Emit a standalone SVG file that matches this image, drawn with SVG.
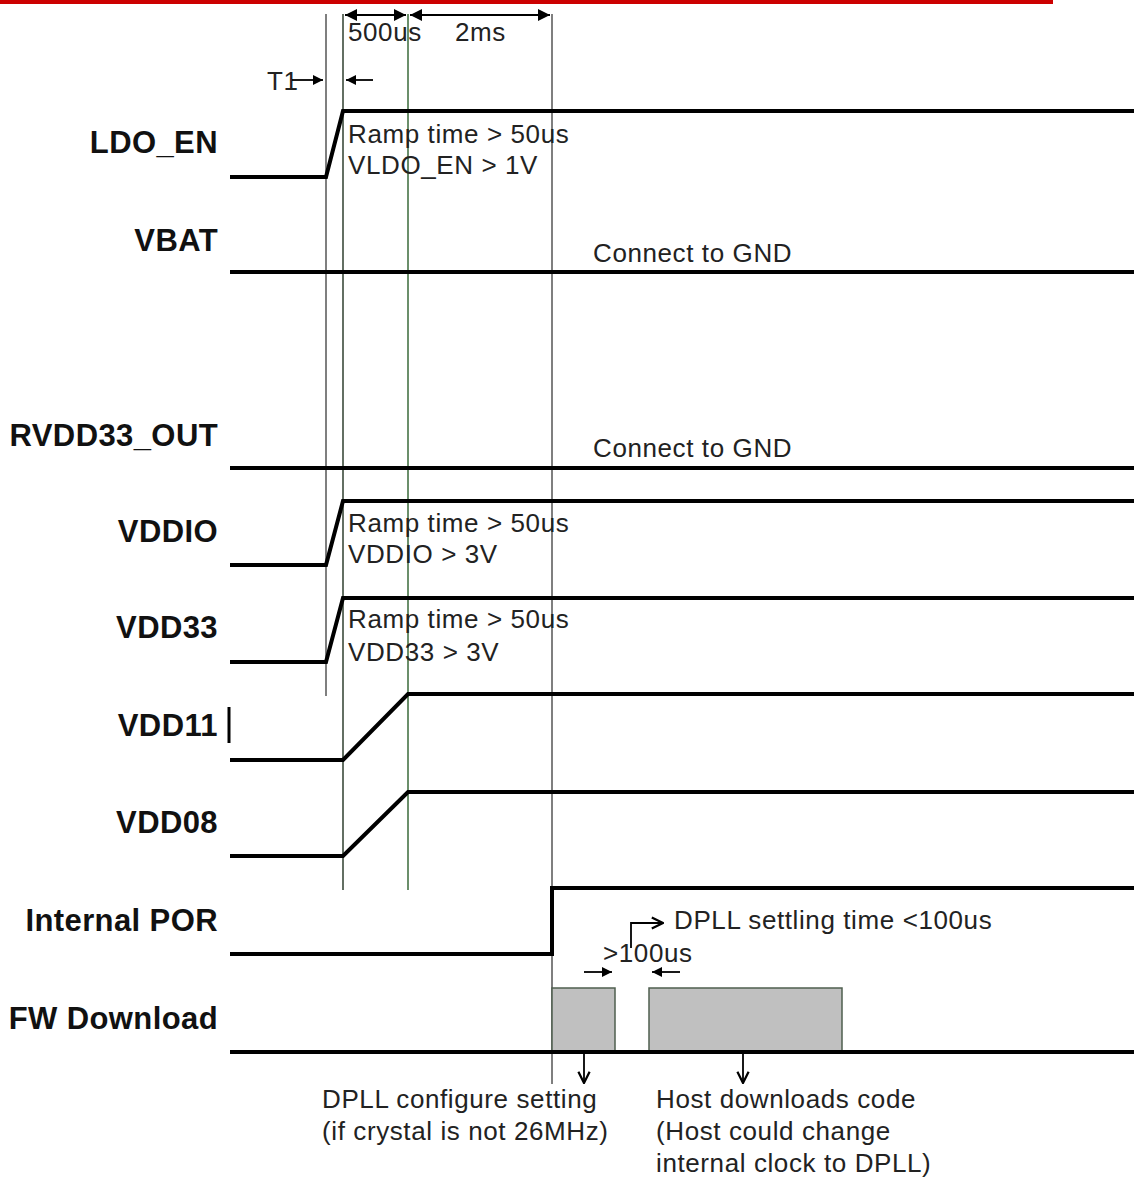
<svg xmlns="http://www.w3.org/2000/svg" width="1134" height="1180" viewBox="0 0 1134 1180">
<style>
.lbl{font-family:"Liberation Sans",Arial,sans-serif;font-weight:bold;font-size:31px;letter-spacing:0.4px;fill:#111;text-anchor:end}
.t{font-family:"Liberation Sans",Arial,sans-serif;font-size:26px;letter-spacing:0.6px;fill:#222}
.sig{fill:none;stroke:#000;stroke-width:4}
.vl{fill:none;stroke-width:1.5}
.arr{fill:none;stroke:#000;stroke-width:1.8}
.box{fill:#c0c0c0;stroke:#4f5f4f;stroke-width:1.5}
</style>
<defs>
<marker id="ah" viewBox="0 0 10 10" refX="10" refY="5" markerWidth="11" markerHeight="10" orient="auto-start-reverse" markerUnits="userSpaceOnUse">
<path d="M0,0 L10,5 L0,10 z" fill="#000"/>
</marker>
<marker id="ah2" viewBox="0 0 10 10" refX="10" refY="5" markerWidth="14" markerHeight="12" orient="auto-start-reverse" markerUnits="userSpaceOnUse">
<path d="M0,0 L10,5 L0,10 z" fill="#000"/>
</marker>
<marker id="open" viewBox="0 0 10 10" refX="9" refY="5" markerWidth="14" markerHeight="14" orient="auto" markerUnits="userSpaceOnUse">
<path d="M1,1 L9,5 L1,9" fill="none" stroke="#000" stroke-width="1.6"/>
</marker>
</defs>
<line x1="0" y1="2" x2="1053" y2="2" stroke="#cc0000" stroke-width="4"/>

<g id="gridlines">
<line class="vl" x1="326" y1="14" x2="326" y2="696" stroke="#555"/>
<line class="vl" x1="343" y1="14" x2="343" y2="890" stroke="#2f3f2f"/>
<line class="vl" x1="408" y1="14" x2="408" y2="890" stroke="#3a6a3a"/>
<line class="vl" x1="552" y1="14" x2="552" y2="1084" stroke="#555"/>
</g>

<g id="timing">
<line class="arr" x1="345" y1="15" x2="406" y2="15" marker-start="url(#ah2)" marker-end="url(#ah2)"/>
<line class="arr" x1="410" y1="15" x2="550" y2="15" marker-start="url(#ah2)" marker-end="url(#ah2)"/>
<text class="t" x="348" y="41">500us</text>
<text class="t" x="455" y="41">2ms</text>
<text class="t" x="267" y="90">T1</text>
<line class="arr" x1="292" y1="80" x2="323" y2="80" marker-end="url(#ah)"/>
<line class="arr" x1="373" y1="80" x2="346" y2="80" marker-end="url(#ah)"/>
</g>

<g id="ldo_en">
<text class="lbl" x="218" y="153">LDO_EN</text>
<polyline class="sig" points="230,177 326,177 343,111 1134,111"/>
<text class="t" x="348" y="143">Ramp time &gt; 50us</text>
<text class="t" x="348" y="174">VLDO_EN &gt; 1V</text>
</g>

<g id="vbat">
<text class="lbl" x="218" y="251">VBAT</text>
<line class="sig" x1="230" y1="272" x2="1134" y2="272"/>
<text class="t" x="593" y="262">Connect to GND</text>
</g>

<g id="rvdd33_out">
<text class="lbl" x="218" y="446">RVDD33_OUT</text>
<line class="sig" x1="230" y1="468" x2="1134" y2="468"/>
<text class="t" x="593" y="457">Connect to GND</text>
</g>

<g id="vddio">
<text class="lbl" x="218" y="542">VDDIO</text>
<polyline class="sig" points="230,565 326,565 343,501 1134,501"/>
<text class="t" x="348" y="532">Ramp time &gt; 50us</text>
<text class="t" x="348" y="563">VDDIO &gt; 3V</text>
</g>

<g id="vdd33">
<text class="lbl" x="218" y="638">VDD33</text>
<polyline class="sig" points="230,662 326,662 343,598 1134,598"/>
<text class="t" x="348" y="628">Ramp time &gt; 50us</text>
<text class="t" x="348" y="661">VDD33 &gt; 3V</text>
</g>

<g id="vdd11">
<text class="lbl" x="218" y="736">VDD11</text>
<line x1="229" y1="707" x2="229" y2="743" stroke="#000" stroke-width="3"/>
<polyline class="sig" points="230,760 343,760 408,694 1134,694"/>
</g>

<g id="vdd08">
<text class="lbl" x="218" y="833">VDD08</text>
<polyline class="sig" points="230,856 343,856 408,792 1134,792"/>
</g>

<g id="internal_por">
<text class="lbl" x="218" y="931">Internal POR</text>
<polyline class="sig" points="230,954 552,954 552,888 1134,888"/>
</g>

<g id="fw_download">
<text class="lbl" x="218" y="1029">FW Download</text>
<rect class="box" x="552" y="988" width="63" height="64"/>
<rect class="box" x="649" y="988" width="193" height="64"/>
<line class="sig" x1="230" y1="1052" x2="1134" y2="1052"/>
</g>

<g id="annotations">
<line class="arr" x1="584" y1="972" x2="612" y2="972" marker-end="url(#ah)"/>
<line class="arr" x1="680" y1="972" x2="652" y2="972" marker-end="url(#ah)"/>
<text class="t" x="603" y="962">&gt;100us</text>
<polyline class="arr" points="631,948 631,923 663,923" marker-end="url(#open)"/>
<text class="t" x="674" y="929">DPLL settling time &lt;100us</text>
<line class="arr" x1="584" y1="1054" x2="584" y2="1083" marker-end="url(#open)"/>
<line class="arr" x1="743" y1="1054" x2="743" y2="1083" marker-end="url(#open)"/>
<text class="t" x="322" y="1108">DPLL configure setting</text>
<text class="t" x="322" y="1140">(if crystal is not 26MHz)</text>
<text class="t" x="656" y="1108">Host downloads code</text>
<text class="t" x="656" y="1140">(Host could change</text>
<text class="t" x="656" y="1172">internal clock to DPLL)</text>
</g>
</svg>
